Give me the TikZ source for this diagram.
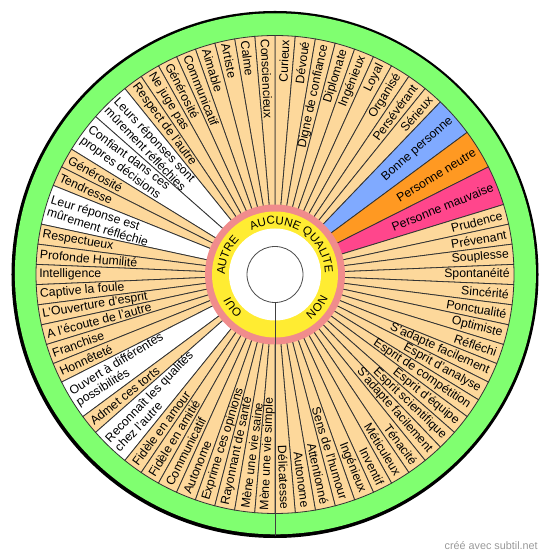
\documentclass[tikz,border=0pt]{standalone}
\usepackage{fontspec}
\setmainfont{Liberation Sans}
\usepackage{tikz}
\usetikzlibrary{decorations.text}
\definecolor{peach}{RGB}{253,216,155}
\definecolor{rimGreen}{RGB}{128,255,112}
\definecolor{goodBlue}{RGB}{128,170,255}
\definecolor{neutralOrange}{RGB}{255,153,34}
\definecolor{badPink}{RGB}{255,70,140}
\definecolor{ringYellow}{RGB}{255,236,50}
\definecolor{ringPink}{RGB}{240,140,140}
\newcommand{\lblfont}{\fontsize{9.2}{9.8}\selectfont}
\newcommand{\ringfont}{\fontsize{8.7}{9}\selectfont}
\tikzset{
    sector/.style={
        ,   draw=black!80
        ,   line width=0.6
    },
    lblR/.style={
        ,   anchor=east
        ,   inner sep=0
        ,   align=right
        ,   font=\lblfont
    },
    lblL/.style={
        ,   anchor=west
        ,   inner sep=0
        ,   align=left
        ,   font=\lblfont
    },
    ringText/.style={
        ,   decorate
        ,   decoration={text along path, text align=center, text={|\ringfont|#1}}
    }
}
\begin{document}
\begin{tikzpicture}[x=0.75pt, y=0.75pt]
\useasboundingbox (-275,-284.5) rectangle (275,274.5);
\pgfmathsetmacro{\degu}{180/37}
% outer rim
\fill[black] (0,0) circle (263.5);
\fill[rimGreen] (0.4,0.7) circle (260.5);

% right half, clockwise from the top
\foreach \s/\w/\col/\txt [count=\i] in {
    0/1/peach/Curieux, 1/1/peach/Dévoué, 2/1/peach/Digne de confiance,
    3/1/peach/Diplomate, 4/1/peach/Ingénieux, 5/1/peach/Loyal,
    6/1/peach/Organisé, 7/1/peach/Persévérant, 8/1/peach/Sérieux,
    9/2/goodBlue/Bonne personne, 11/2/neutralOrange/Personne neutre,
    13/2/badPink/Personne mauvaise,
    15/1/peach/Prudence, 16/1/peach/Prévenant, 17/1/peach/Souplesse,
    18/1/peach/Spontanéité, 19/1/peach/Sincérité, 20/1/peach/Ponctualité,
    21/1/peach/Optimiste, 22/1/peach/Réfléchi, 23/1/peach/S'adapte facilement,
    24/1/peach/Esprit d'analyse, 25/1/peach/Esprit de compétition,
    26/1/peach/Esprit d'équipe, 27/1/peach/Esprit scientifique,
    28/1/peach/S'adapte facilement, 29/1/peach/Ténacité, 30/1/peach/Méticuleux,
    31/1/peach/Inventif, 32/1/peach/Ingénieux, 33/1/peach/Sens de l'humour,
    34/1/peach/Attentionné, 35/1/peach/Autonome, 36/1/peach/Délicatesse}{
  \pgfmathsetmacro{\a}{90-\s*\degu}
  \pgfmathsetmacro{\b}{90-(\s+\w)*\degu}
  \pgfmathsetmacro{\c}{(\a+\b)/2}
  \filldraw[sector, fill=\col] (0,0) -- (\a:239) arc[start angle=\a, end angle=\b, radius=239] -- cycle;
  \node[lblR, rotate=\c] (r\i) at (\c:235) {\txt};
}

% left half, counter-clockwise from the top
\foreach \s/\w/\col/\txt [count=\i] in {
    0/1/peach/Consciencieux, 1/1/peach/Calme, 2/1/peach/Artiste,
    3/1/peach/Aimable, 4/1/peach/Communicatif, 5/1/peach/Générosité,
    6/1/peach/Ne juge pas, 7/1/peach/Respect de l'autre,
    8/2/white/{Leurs réponses sont\\mûrement réfléchies},
    10/2/white/{Confiant dans ces\\propres décisions},
    12/1/peach/Générosité, 13/1/peach/Tendresse,
    14/2/white/{Leur réponse est\\mûrement réfléchie},
    16/1/peach/Respectueux, 17/1/peach/Profonde Humilité,
    18/1/peach/Intelligence, 19/1/peach/Captive la foule,
    20/1/peach/L'Ouverture d'esprit, 21/1/peach/A l'écoute de l'autre,
    22/1/peach/Franchise, 23/1/peach/Honnêteté,
    24/2/white/{Ouvert à différentes\\possibilités},
    26/1/peach/Admet ces torts,
    27/2/white/{Reconnaît les qualités\\chez l'autre},
    29/1/peach/Fidèle en amour, 30/1/peach/Fidèle en amitié,
    31/1/peach/Communicatif, 32/1/peach/Autonome,
    33/1/peach/Exprime ces opinions, 34/1/peach/Rayonnant de santé,
    35/1/peach/Mène une vie saine, 36/1/peach/Mène une vie simple}{
  \pgfmathsetmacro{\a}{90+\s*\degu}
  \pgfmathsetmacro{\b}{90+(\s+\w)*\degu}
  \pgfmathsetmacro{\c}{(\a+\b)/2}
  \filldraw[sector, fill=\col] (0,0) -- (\a:239) arc[start angle=\a, end angle=\b, radius=239] -- cycle;
  \node[lblL, rotate=\c-180] (l\i) at (\c:236) {\txt};
}

% inner rings
\fill[ringPink] (0,0) circle (70);
\fill[ringYellow] (0,0) circle (63);
\fill[white] (0,0) circle (46);
\draw[black!70, line width=0.6] (0,0) circle (28);
\coordinate (hub) at (270:28);
\coordinate (rim) at (270:261);
\draw[black!75, line width=0.6] (hub) -- (rim);

\path[ringText={AUCUNE QUALITE}] (125:50) arc[start angle=125, end angle=-6, radius=50];
\path[ringText={AUTRE}] (185:50) arc[start angle=185, end angle=131, radius=50];
\path[ringText={OUI}] (240:50) arc[start angle=240, end angle=196, radius=50];
\path[ringText={NON}] (-14:50) arc[start angle=-14, end angle=-62, radius=50];

\node[anchor=east, inner sep=0, text=black!40, font=\fontsize{8.1}{9}\selectfont] (credit) at (263,-271) {créé avec subtil.net};
\end{tikzpicture}
\end{document}
